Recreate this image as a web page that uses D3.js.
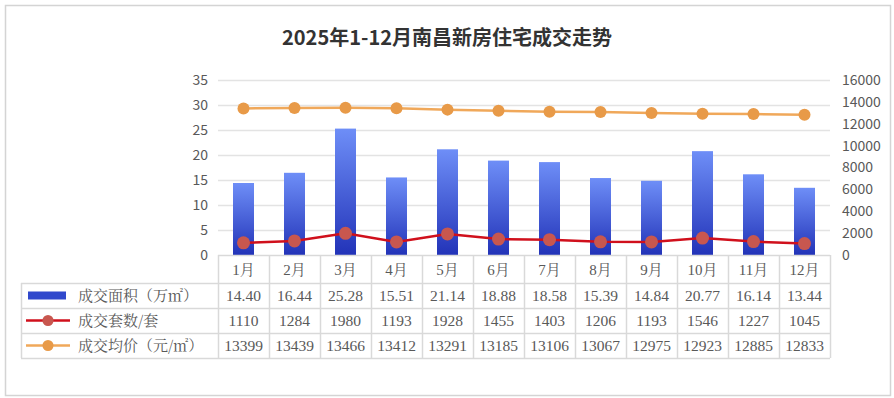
<!DOCTYPE html>
<html>
<head>
<meta charset="utf-8">
<script src="https://cdn.jsdelivr.net/npm/d3@7"></script>
<style>
  body { margin: 0; background: #fff; }
  text { font-family: "Liberation Serif", "Noto Sans CJK SC", serif; }
</style>
</head>
<body>
<svg class="chart"></svg>
<script>
const months = ["1月", "2月", "3月", "4月", "5月", "6月", "7月", "8月", "9月", "10月", "11月", "12月"];
const area = [14.40, 16.44, 25.28, 15.51, 21.14, 18.88, 18.58, 15.39, 14.84, 20.77, 16.14, 13.44];
const units = [1110, 1284, 1980, 1193, 1928, 1455, 1403, 1206, 1193, 1546, 1227, 1045];
const price = [13399, 13439, 13466, 13412, 13291, 13185, 13106, 13067, 12975, 12923, 12885, 12833];
const leftTicks = [0, 5, 10, 15, 20, 25, 30, 35];
const rightTicks = [0, 2000, 4000, 6000, 8000, 10000, 12000, 14000, 16000];
const rowLabels = ["成交面积（万㎡）", "成交套数/套", "成交均价（元/㎡）"];

const width = 894, height = 398;
const plotLeft = 218, plotRight = 830, plotTop = 80, plotBottom = 255;
const rowH = 25, headerH = 28, tableLeft = 21;
const gridColor = "#d9d9d9";
const sansFont = "'Noto Sans CJK SC', 'Noto Sans', sans-serif";

const svg = d3.select(".chart").attr("width", width).attr("height", height);

// outer border
svg.append("rect")
  .attr("x", 5.5).attr("y", 5.5)
  .attr("width", 885).attr("height", 390)
  .attr("fill", "#fff")
  .style("stroke", "#d4d4d4").style("stroke-width", 1.5);

svg.append("text")
  .attr("x", 447).attr("y", 45)
  .attr("text-anchor", "middle")
  .style("font-family", sansFont)
  .style("font-size", "20px").style("font-weight", "bold")
  .attr("fill", "#333")
  .text("2025年1-12月南昌新房住宅成交走势");

let x = d3.scaleBand().domain(months).range([plotLeft, plotRight]);
let yL = d3.scaleLinear().domain([0, 35]).range([plotBottom, plotTop]);
let yR = d3.scaleLinear().domain([0, 16000]).range([plotBottom, plotTop]);
const cx = d => x(d) + x.bandwidth() / 2;

// gridlines
svg.append("g").selectAll("line")
  .data(leftTicks.slice(1))
  .enter().append("line")
  .attr("x1", plotLeft).attr("x2", plotRight)
  .attr("y1", d => yL(d) + 0.5).attr("y2", d => yL(d) + 0.5)
  .style("stroke", "#e3e3e3").style("stroke-width", 1.5);

// left axis
svg.append("g").attr("transform", `translate(${plotLeft},0)`)
  .call(d3.axisLeft(yL).tickValues(leftTicks).tickSize(0).tickPadding(10))
  .call(g => {
    g.select(".domain").remove();
    g.selectAll("text").attr("fill", "#595959")
      .style("font-family", sansFont).style("font-size", "14px");
  });

// right axis
svg.append("g").attr("transform", `translate(${plotRight},0)`)
  .call(d3.axisRight(yR).tickValues(rightTicks).tickFormat(d3.format("d")).tickSize(0).tickPadding(12))
  .call(g => {
    g.select(".domain").remove();
    g.selectAll("text").attr("fill", "#595959")
      .style("font-family", sansFont).style("font-size", "14px");
  });

// bar gradient
const grad = svg.append("defs").append("linearGradient")
  .attr("id", "barGrad").attr("x1", 0).attr("y1", 0).attr("x2", 0).attr("y2", 1);
grad.append("stop").attr("offset", "0%").attr("stop-color", "#6e8ef7");
grad.append("stop").attr("offset", "100%").attr("stop-color", "#2233b8");

const barW = 21;
svg.append("g").selectAll("rect")
  .data(months)
  .enter().append("rect")
  .attr("x", d => cx(d) - barW / 2)
  .attr("y", (d, i) => yL(area[i]))
  .attr("width", barW)
  .attr("height", (d, i) => yL(0) - yL(area[i]))
  .attr("fill", "url(#barGrad)");

// lines
const valLine = d3.line().x((d, i) => cx(months[i])).y(d => yR(d));
svg.append("path").datum(price)
  .attr("d", valLine).attr("fill", "none")
  .style("stroke", "#f0a85a").style("stroke-width", 2.5);
svg.append("g").selectAll("circle").data(price).enter().append("circle")
  .attr("cx", (d, i) => cx(months[i])).attr("cy", d => yR(d)).attr("r", 6)
  .attr("fill", "#e89a48");

svg.append("path").datum(units)
  .attr("d", valLine).attr("fill", "none")
  .style("stroke", "#d0101c").style("stroke-width", 2.5);
svg.append("g").selectAll("circle").data(units).enter().append("circle")
  .attr("cx", (d, i) => cx(months[i])).attr("cy", d => yR(d)).attr("r", 6.5)
  .attr("fill", "#c8574f");

// table
const tbl = svg.append("g");
const tableTop = plotBottom + headerH;
const tableBottom = tableTop + rowH * 3;
[plotBottom, tableTop, tableTop + rowH, tableTop + 2 * rowH, tableBottom].forEach((yy, i) => {
  tbl.append("line")
    .attr("x1", i === 0 ? plotLeft : tableLeft).attr("x2", plotRight)
    .attr("y1", yy + 0.5).attr("y2", yy + 0.5)
    .style("stroke", gridColor).style("stroke-width", 1.5);
});
tbl.append("line")
  .attr("x1", tableLeft + 0.5).attr("x2", tableLeft + 0.5)
  .attr("y1", tableTop).attr("y2", tableBottom)
  .style("stroke", gridColor).style("stroke-width", 1.5);
months.concat(["end"]).forEach((m, i) => {
  const xx = i < months.length ? x(m) : plotRight;
  tbl.append("line")
    .attr("x1", xx + 0.5).attr("x2", xx + 0.5)
    .attr("y1", plotBottom).attr("y2", tableBottom)
    .style("stroke", gridColor).style("stroke-width", 1.5);
});

// month labels
tbl.selectAll(".mlab").data(months).enter().append("text")
  .attr("x", d => cx(d)).attr("y", plotBottom + 20)
  .attr("text-anchor", "middle")
  .attr("fill", "#595959")
  .style("font-family", "'Liberation Serif', 'Noto Serif CJK SC', 'Noto Sans CJK SC', serif")
  .style("font-size", "15px")
  .text(d => d);

const rows = [area.map(v => v.toFixed(2)), units.map(String), price.map(String)];
rows.forEach((vals, r) => {
  const yy = tableTop + r * rowH + 18;
  tbl.selectAll(".row" + r).data(vals).enter().append("text")
    .attr("x", (d, i) => cx(months[i])).attr("y", yy)
    .attr("text-anchor", "middle")
    .attr("fill", "#595959")
    .style("font-size", "15.5px")
    .text(d => d);
  tbl.append("text")
    .attr("x", 78).attr("y", yy)
    .attr("fill", "#595959")
    .style("font-family", "'Noto Serif CJK SC', 'Noto Sans CJK SC', sans-serif")
    .style("font-size", "15px")
    .text(rowLabels[r]);
});

// legend keys
const ky = r => tableTop + r * rowH + rowH / 2;
tbl.append("rect")
  .attr("x", 28).attr("y", ky(0) - 4).attr("width", 38).attr("height", 8)
  .attr("fill", "#3048cc");
tbl.append("line").attr("x1", 26).attr("x2", 70).attr("y1", ky(1)).attr("y2", ky(1))
  .style("stroke", "#d0101c").style("stroke-width", 2.5);
tbl.append("circle").attr("cx", 48).attr("cy", ky(1)).attr("r", 5.5).attr("fill", "#c8574f");
tbl.append("line").attr("x1", 26).attr("x2", 70).attr("y1", ky(2)).attr("y2", ky(2))
  .style("stroke", "#f0a85a").style("stroke-width", 2.5);
tbl.append("circle").attr("cx", 48).attr("cy", ky(2)).attr("r", 5.5).attr("fill", "#e89a48");
</script>
</body>
</html>
